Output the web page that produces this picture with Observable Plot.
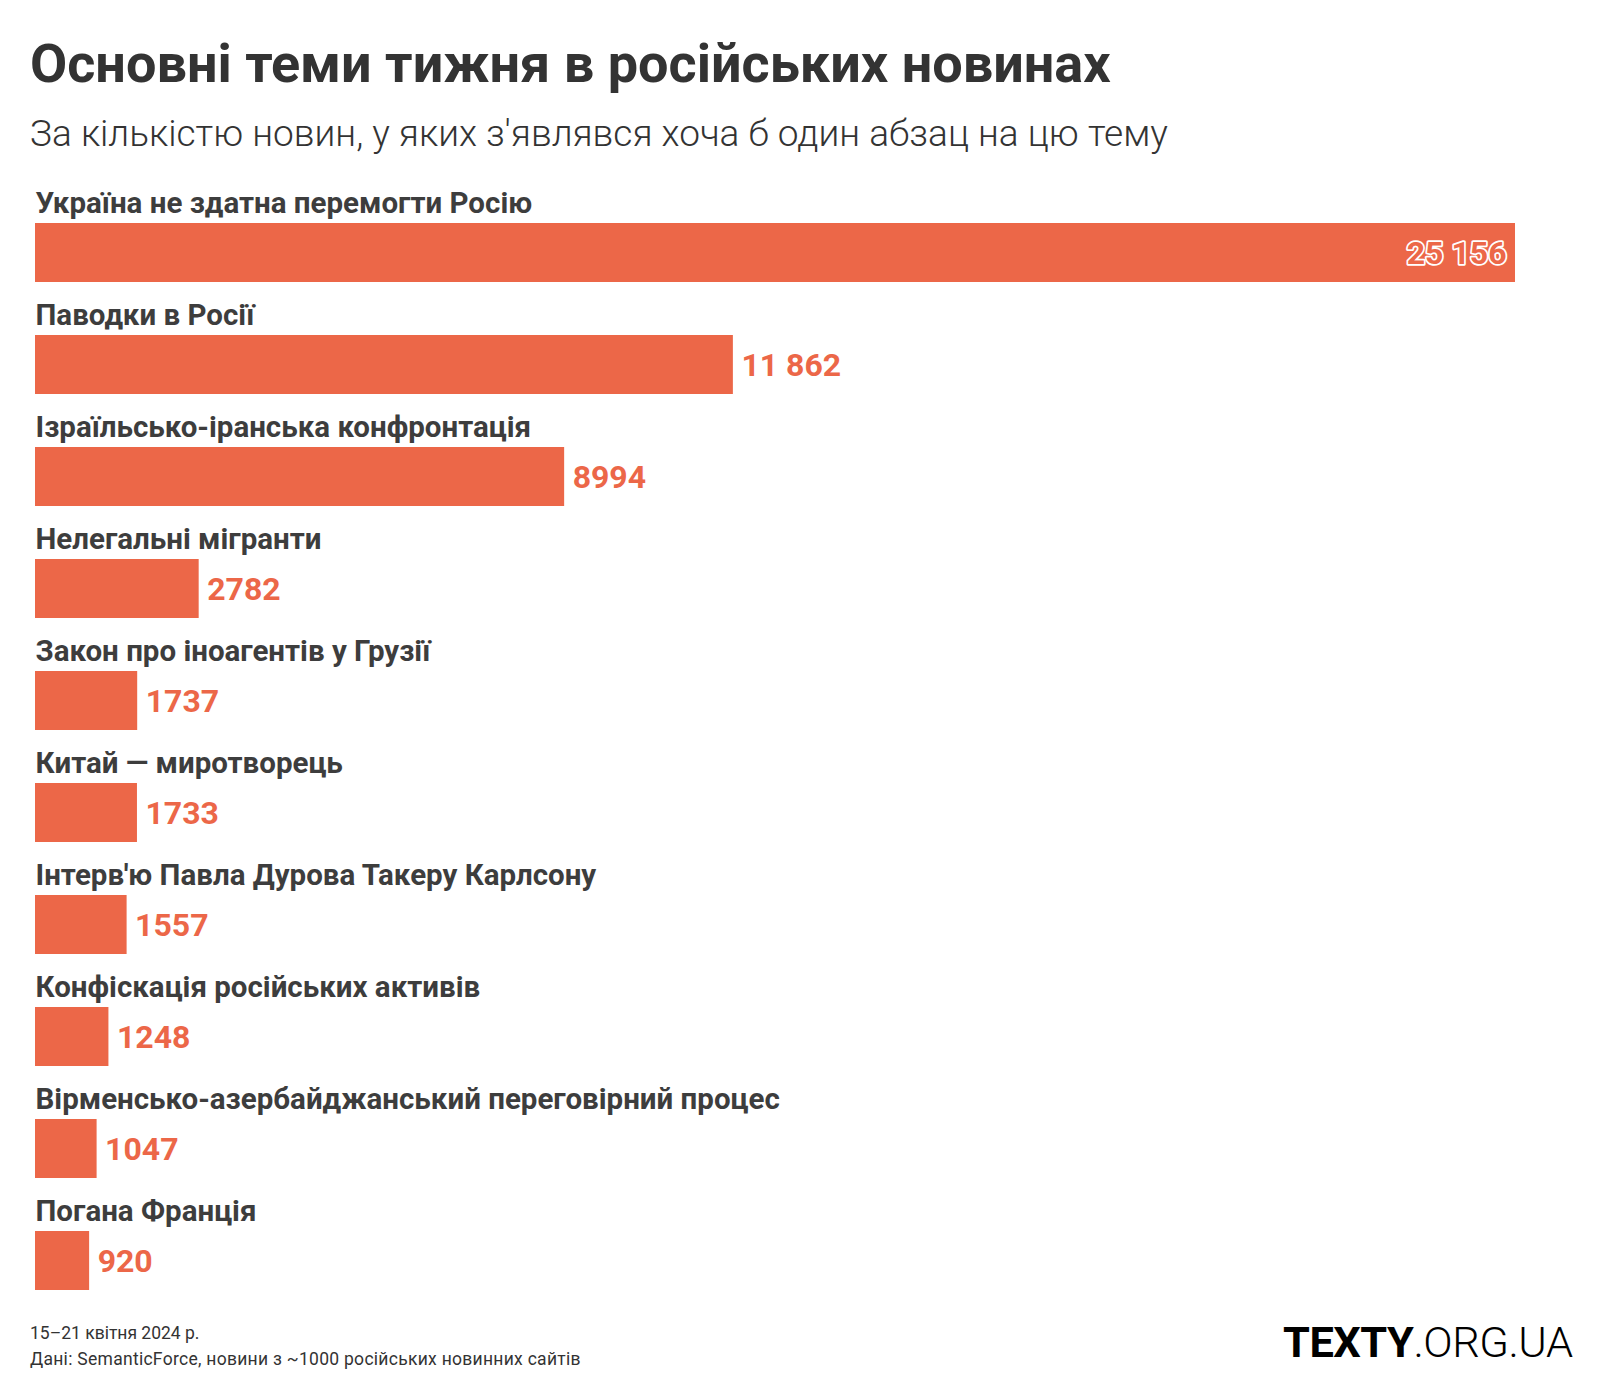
<!DOCTYPE html>
<html>
<head>
<meta charset="utf-8">
<script src="https://cdn.jsdelivr.net/npm/d3@7"></script>
<script src="https://cdn.jsdelivr.net/npm/@observablehq/plot@0.6"></script>
<style>
  html, body { margin: 0; padding: 0; background: #fff; }
  #wrap { position: relative; width: 1600px; height: 1400px; overflow: hidden; font-family: Roboto, "Noto Sans", sans-serif; }
  .abs { position: absolute; line-height: 1; white-space: nowrap; }
  #title { left: 30px; top: 37px; font-size: 54px; font-weight: 700; color: #333; }
  #subtitle { left: 30px; top: 115px; font-size: 37px; font-weight: 300; color: #333; }
  #chart { position: absolute; left: 0; top: 180px; }
  #note1 { left: 30px; top: 1325px; font-size: 17.5px; color: #333; }
  #note2 { left: 30px; top: 1351px; font-size: 17.5px; color: #333; letter-spacing: 0.28px; }
  #logo { left: 1283px; top: 1321px; font-size: 43.4px; color: #000; letter-spacing: -0.5px; }
  #logo b { font-weight: 700; }
  #logo span { font-weight: 300; }
</style>
</head>
<body>
<div id="wrap">
  <div id="title" class="abs">Основні теми тижня в російських новинах</div>
  <div id="subtitle" class="abs">За кількістю новин, у яких з'являвся хоча б один абзац на цю тему</div>
  <div id="chart"></div>
  <div id="note1" class="abs">15–21 квітня 2024 р.</div>
  <div id="note2" class="abs">Дані: SemanticForce, новини з ~1000 російських новинних сайтів</div>
  <div id="logo" class="abs"><b>TEXTY</b><span>.ORG.UA</span></div>
</div>
<script>
const categories = [
  "Україна не здатна перемогти Росію",
  "Паводки в Росії",
  "Ізраїльсько-іранська конфронтація",
  "Нелегальні мігранти",
  "Закон про іноагентів у Грузії",
  "Китай — миротворець",
  "Інтерв'ю Павла Дурова Такеру Карлсону",
  "Конфіскація російських активів",
  "Вірменсько-азербайджанський переговірний процес",
  "Погана Франція"
];
const values = [25156, 11862, 8994, 2782, 1737, 1733, 1557, 1248, 1047, 920];

const data = categories.map((c, i) => ({cat: c, value: values[i]}));
const fmt = v => v >= 10000 ? String(v).replace(/\B(?=(\d{3})+(?!\d))/g, " ") : String(v);
const barColor = "#EC6748";
const maxV = d3.max(values);

const plot = Plot.plot({
  width: 1600,
  height: 1120,
  marginLeft: 35,
  marginRight: 85,
  marginTop: 0,
  marginBottom: 0,
  style: {fontFamily: "Roboto, 'Noto Sans', sans-serif", background: "transparent"},
  x: {domain: [0, maxV], axis: null},
  y: {domain: categories, range: [42, 42 + 112.2 * (categories.length - 0.474)], paddingInner: 0.474, paddingOuter: 0, axis: null},
  marks: [
    Plot.barX(data, {x: "value", y: "cat", fill: barColor}),
    Plot.text(data, {
      x: 0, y: "cat", text: "cat", textAnchor: "start", lineAnchor: "middle",
      dy: -49, fontSize: 29.5, fontWeight: 700, fill: "#3d3d3d"
    }),
    Plot.text(data.filter(d => d.value === maxV), {
      x: "value", y: "cat", text: d => fmt(d.value), textAnchor: "end", lineAnchor: "middle",
      dx: -9, dy: 1, fontSize: 32, fontWeight: 700, fill: barColor, stroke: "white", strokeWidth: 3.5
    }),
    Plot.text(data.filter(d => d.value !== maxV), {
      x: "value", y: "cat", text: d => fmt(d.value), textAnchor: "start", lineAnchor: "middle",
      dx: 8, dy: 1, fontSize: 32, fontWeight: 700, fill: barColor
    })
  ]
});
document.getElementById("chart").appendChild(plot);
</script>
</body>
</html>
